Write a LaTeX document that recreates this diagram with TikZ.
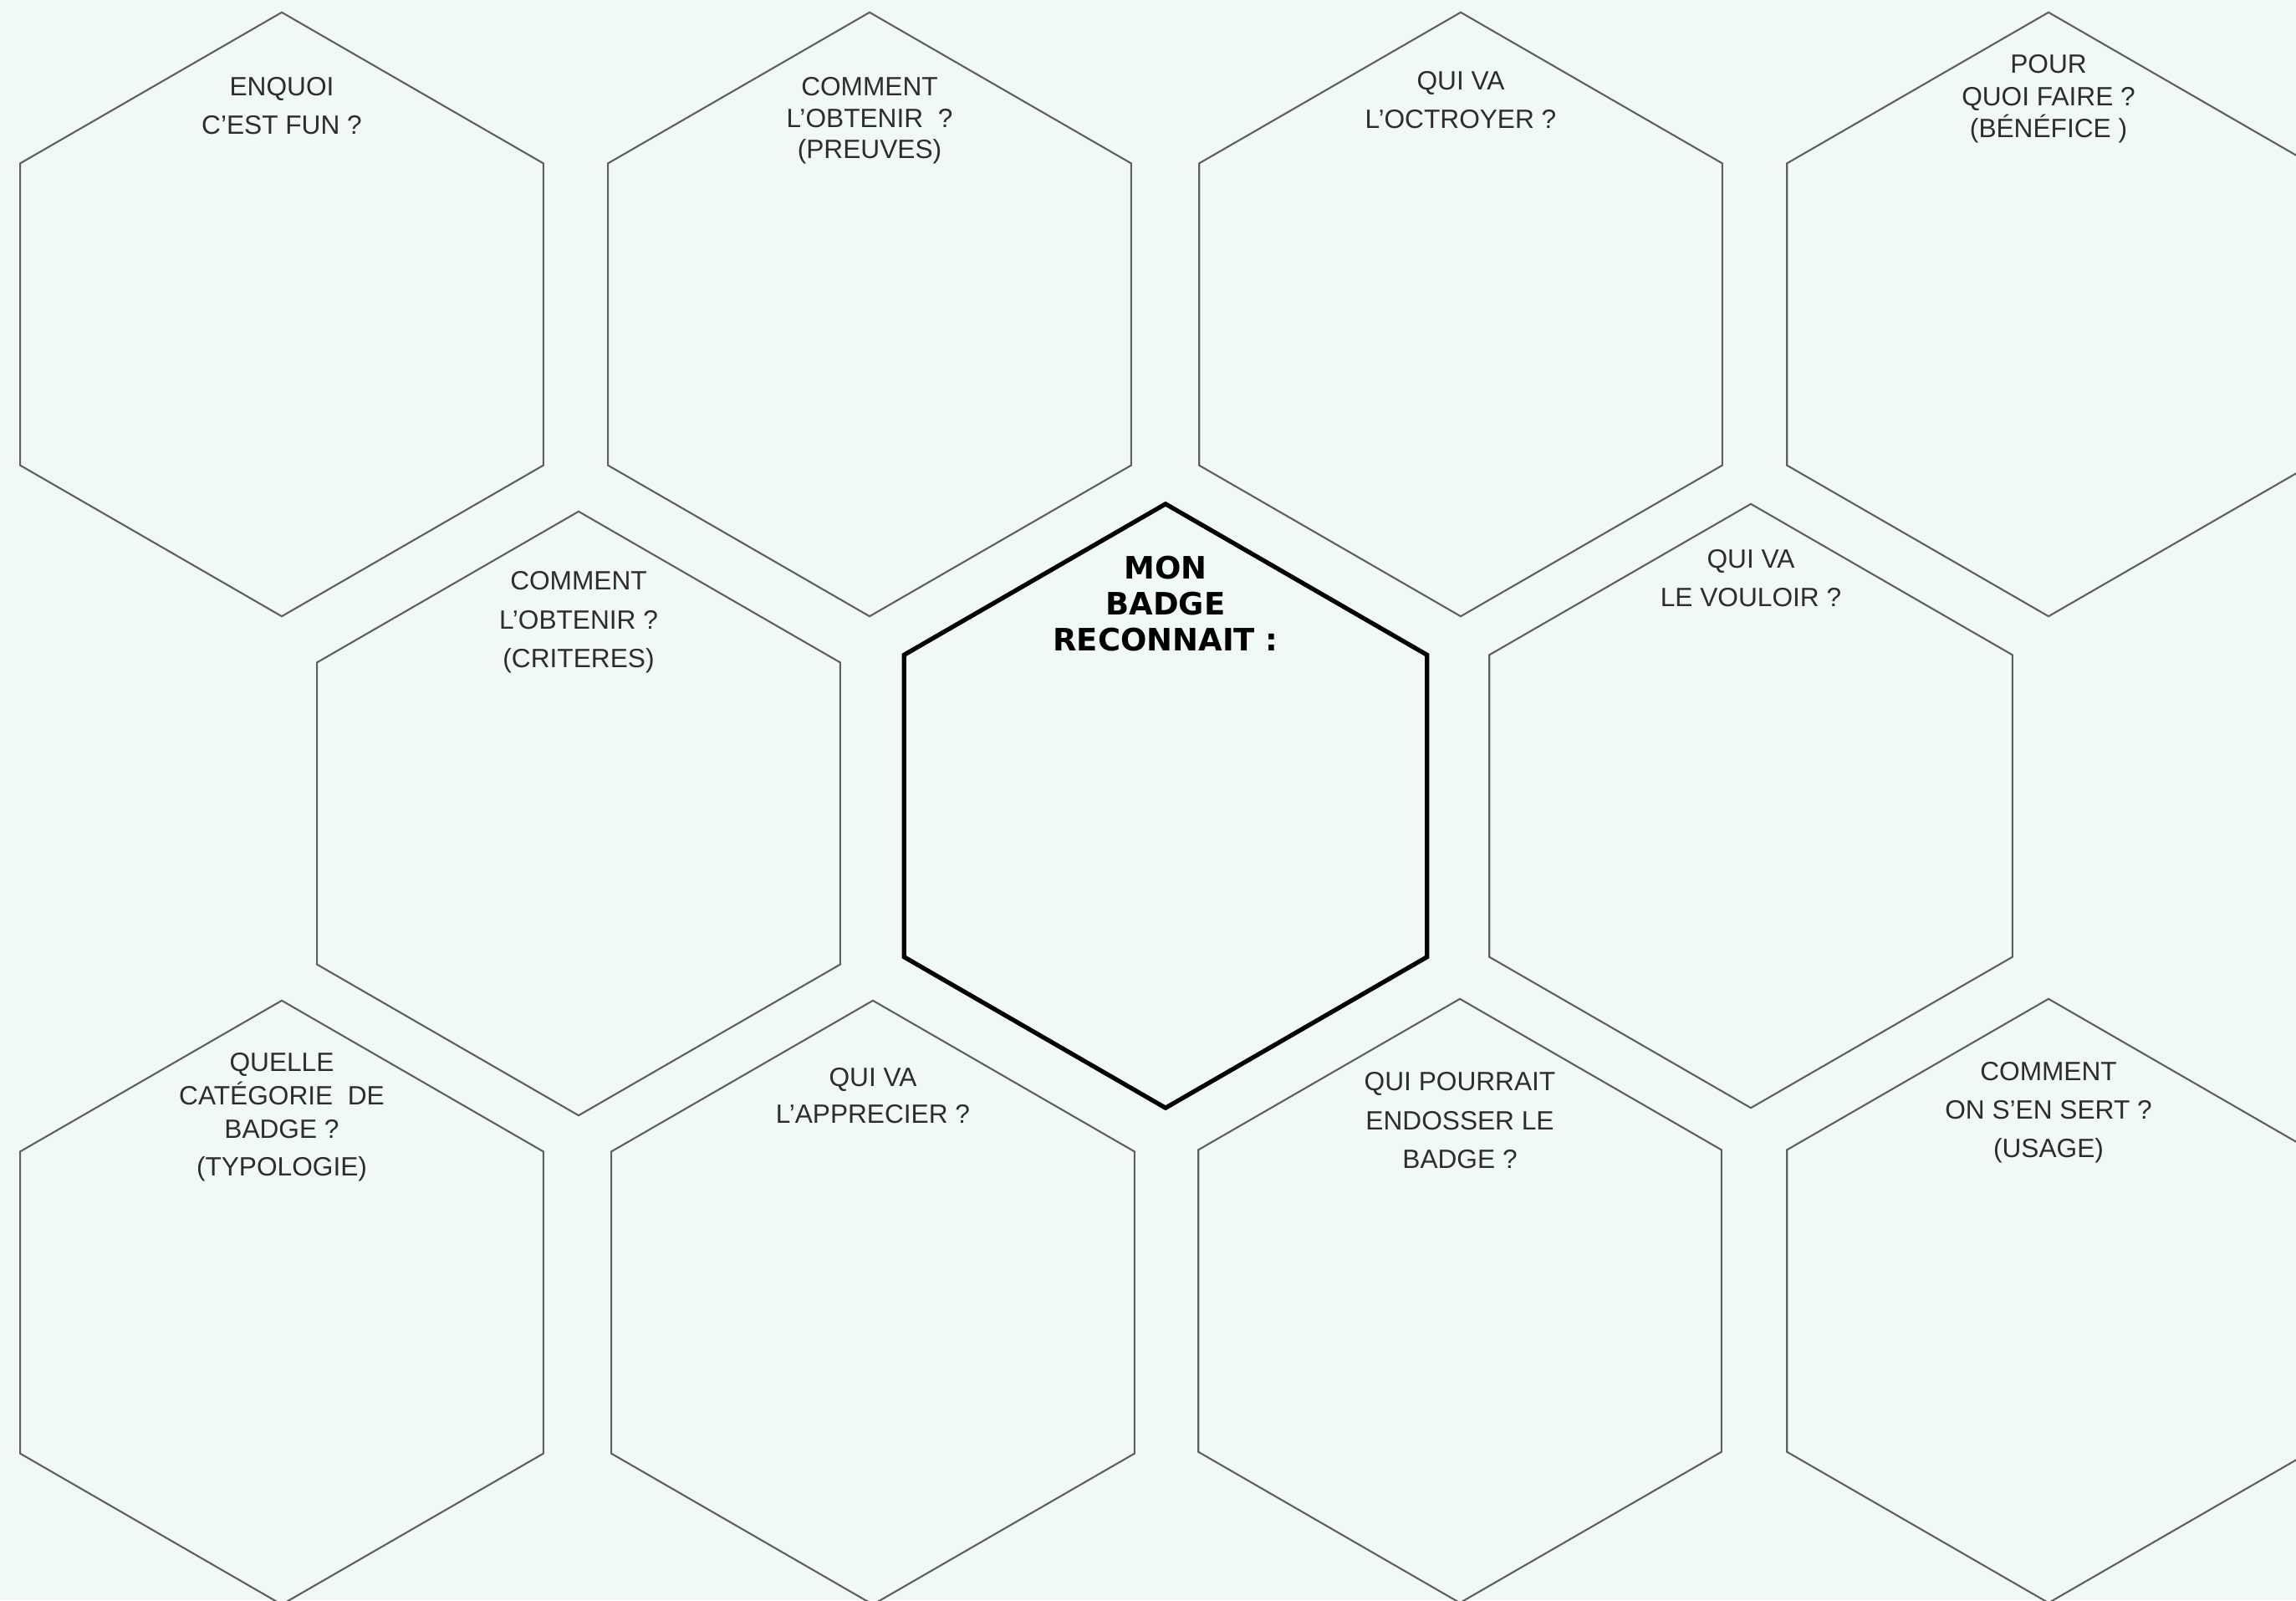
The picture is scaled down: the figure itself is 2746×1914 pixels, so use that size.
\documentclass[tikz,border=0pt]{standalone}
\usepackage{fontspec}
\setmainfont{Liberation Sans}
\newfontfamily\titrefont{DejaVu Sans}
\usetikzlibrary{shapes.geometric, positioning}

\definecolor{fond}{RGB}{241,248,248}
\definecolor{trait}{RGB}{95,95,95}
\definecolor{encre}{RGB}{45,45,45}

\begin{document}
\begin{tikzpicture}[
        x=0.01cm, y=0.01cm,
        alveole/.style={regular polygon, regular polygon sides=6, shape border rotate=30, minimum size=7.22cm, inner sep=0pt, outer sep=0pt, draw=trait, line width=0.6pt},
        alveolecentre/.style={alveole, draw=black, line width=1.5pt},
        question/.style={align=center, inner sep=0pt, text=encre, font=\fontsize{9}{13}\selectfont},
        titre/.style={align=center, inner sep=0pt, text=black, font=\titrefont\bfseries\fontsize{10.5}{12.2}\selectfont}
    ]
        \fill[fond] (0,0) rectangle (2746,1914);
        \useasboundingbox (0,0) rectangle (2746,1914);
        \clip (0,0) rectangle (2746,1914);

        % rangee du haut
        \node[alveole] (fun) at (337,1538) {};
        \node[alveole] (preuves) at (1040,1538) {};
        \node[alveole] (octroi) at (1747,1538) {};
        \node[alveole] (benefice) at (2450,1538) {};

        % rangee du milieu
        \node[alveole] (criteres) at (692,941) {};
        \node[alveolecentre] (badge) at (1394,950) {};
        \node[alveole] (vouloir) at (2094,950) {};

        % rangee du bas
        \node[alveole] (typologie) at (337,356) {};
        \node[alveole] (apprecier) at (1044,356) {};
        \node[alveole] (endosser) at (1746,358) {};
        \node[alveole] (usage) at (2450,358) {};

        % questions
        \node[question, below=0.77cm of fun.north] (qfun) {ENQUOI\\C’EST FUN ?};
        \node[question, below=0.77cm of preuves.north, font=\fontsize{9}{10.7}\selectfont] (qpreuves) {COMMENT\\L’OBTENIR\ \ ?\\(PREUVES)};
        \node[question, below=0.70cm of octroi.north] (qoctroi) {QUI VA\\L’OCTROYER ?};
        \node[question, below=0.50cm of benefice.north, font=\fontsize{9}{11}\selectfont] (qbenefice) {POUR\\QUOI FAIRE ?\\(BÉNÉFICE )};
        \node[question, below=0.71cm of criteres.north, font=\fontsize{9}{13.2}\selectfont] (qcriteres) {COMMENT\\L’OBTENIR ?\\(CRITERES)};
        \node[titre, below=0.62cm of badge.north] (tbadge) {MON\\BADGE\\RECONNAIT :};
        \node[question, below=0.54cm of vouloir.north] (qvouloir) {QUI VA\\LE VOULOIR ?};
        \node[question, below=0.62cm of typologie.north, font=\fontsize{9}{11.3}\selectfont] (qtypologie) {QUELLE\\CATÉGORIE\ \ DE\\BADGE ?\\[1.5pt](TYPOLOGIE)};
        \node[question, below=0.80cm of apprecier.north, font=\fontsize{9}{12.5}\selectfont] (qapprecier) {QUI VA\\L’APPRECIER ?};
        \node[question, below=0.87cm of endosser.north, font=\fontsize{9}{13.2}\selectfont] (qendosser) {QUI POURRAIT\\ENDOSSER LE\\BADGE ?};
        \node[question, below=0.75cm of usage.north] (qusage) {COMMENT\\ON S’EN SERT ?\\(USAGE)};
    \end{tikzpicture}
\end{document}
